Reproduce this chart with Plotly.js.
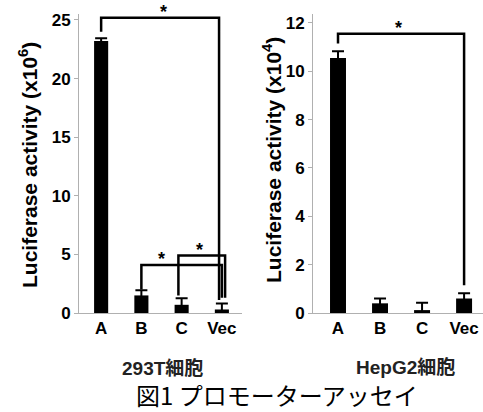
<!DOCTYPE html>
<html><head><meta charset="utf-8">
<script src="https://cdn.plot.ly/plotly-3.0.1.min.js"></script>
<style>html,body{margin:0;padding:0;background:#fff}#c{width:483px;height:412px}</style>
</head><body><div id="c"></div>
<script>
const categories = ['A','B','C','Vec'];
const values293T = [23.2, 1.5, 0.7, 0.3];
const errors293T = [0.25, 0.45, 0.55, 0.5];
const valuesHepG2 = [10.55, 0.4, 0.12, 0.6];
const errorsHepG2 = [0.28, 0.2, 0.3, 0.22];
// significance brackets: [x left, x right, y top, y left end, y right end]
const brackets293T = [[0, 2.93, 25.2, 24.0, 1.1], [1.0, 3.0, 4.1, 2.0, 1.3], [1.92, 3.08, 4.9, 1.5, 1.3]];
const bracketsHepG2 = [[0, 3.0, 11.55, 11.15, 1.15]];
const starPos293T = [[1.55, 25.2], [1.5, 4.1], [2.45, 4.9]];
const starPosHepG2 = [[1.45, 11.55]];

const FONT = 'Liberation Sans, Arial, sans-serif';
const traces = [];
traces.push({type:'bar', x:[0,1,2,3], y:values293T, xaxis:'x', yaxis:'y', width:0.35,
  marker:{color:'#000'}, error_y:{type:'data', array:errors293T, color:'#000', thickness:2, width:6}});
traces.push({type:'bar', x:[0,1,2,3], y:valuesHepG2, xaxis:'x2', yaxis:'y2', width:0.38,
  marker:{color:'#000'}, error_y:{type:'data', array:errorsHepG2, color:'#000', thickness:2, width:6}});
function addBrackets(list, xa, ya){
  list.forEach(b=>{
    traces.push({type:'scatter', mode:'lines', x:[b[0],b[0],b[1],b[1]], y:[b[3],b[2],b[2],b[4]],
      xaxis:xa, yaxis:ya, line:{color:'#000', width:2.5}, hoverinfo:'skip', cliponaxis:false});
  });
}
addBrackets(brackets293T,'x','y');
addBrackets(bracketsHepG2,'x2','y2');

const ann = [];
const C = {xanchor:'center', yanchor:'middle', showarrow:false, xref:'paper', yref:'paper'};
starPos293T.forEach(p=>ann.push({x:p[0], y:p[1], xref:'x', yref:'y', xanchor:'center', text:'<b>*</b>', showarrow:false, yanchor:'bottom', yshift:-6, font:{size:18, family:FONT, color:'#000'}}));
starPosHepG2.forEach(p=>ann.push({x:p[0], y:p[1], xref:'x2', yref:'y2', xanchor:'center', text:'<b>*</b>', showarrow:false, yanchor:'bottom', yshift:-6, font:{size:18, family:FONT, color:'#000'}}));
ann.push(Object.assign({}, C, {x:28/483, y:(412-165)/412, textangle:-90, text:'<b>Luciferase activity (x10<sup>6</sup>)</b>', font:{size:21, family:FONT, color:'#000'}}));
ann.push(Object.assign({}, C, {x:272/483, y:(412-160)/412, textangle:-90, text:'<b>Luciferase activity (x10<sup>4</sup>)</b>', font:{size:21, family:FONT, color:'#000'}}));
ann.push(Object.assign({}, C, {x:162/483, y:(412-368)/412, text:'<b>293T細胞</b>', font:{size:19, family:'Liberation Sans, Noto Sans CJK JP', color:'#222'}}));
ann.push(Object.assign({}, C, {x:405/483, y:(412-367)/412, text:'<b>HepG2細胞</b>', font:{size:19, family:'Liberation Sans, Noto Sans CJK JP', color:'#222'}}));
ann.push(Object.assign({}, C, {x:277/483, y:(412-394)/412, text:'図1 プロモーターアッセイ', font:{size:24, family:'Noto Sans CJK JP', color:'#000'}}));

const axCommon = {showgrid:false, zeroline:false, showline:true, linecolor:'#b0b0b0', linewidth:1,
  ticks:'outside', tickcolor:'#b0b0b0', ticklen:4, ticklabeloverflow:'allow',
  tickfont:{size:17, family:FONT, color:'#000', weight:'bold'}};
const layout = {
  width:483, height:412, margin:{l:0,r:0,t:0,b:0}, paper_bgcolor:'#fff', plot_bgcolor:'#fff', showlegend:false,
  xaxis:Object.assign({}, axCommon, {domain:[79/483, 242/483], range:[-0.55,3.5], tickmode:'array', tickvals:[0,1,2,3], ticktext:categories, ticks:'', anchor:'y'}),
  yaxis:Object.assign({}, axCommon, {domain:[99/412, 398/412], range:[0,25.51], tickvals:[0,5,10,15,20,25], anchor:'x'}),
  xaxis2:Object.assign({}, axCommon, {domain:[313/483, 1], range:[-0.595,3.45], tickmode:'array', tickvals:[0,1,2,3], ticktext:categories, ticks:'', anchor:'y2'}),
  yaxis2:Object.assign({}, axCommon, {domain:[99/412, 398/412], range:[0,12.37], tickvals:[0,2,4,6,8,10,12], anchor:'x2'}),
  annotations:ann,
  shapes:[
    ...[0.5,1.5,2.5,3.5].map(v=>({type:'line', xref:'x', yref:'y', x0:v, x1:v, y0:0, y1:-0.35, line:{color:'#b0b0b0', width:1}})),
    ...[0.5,1.5,2.5].map(v=>({type:'line', xref:'x2', yref:'y2', x0:v, x1:v, y0:0, y1:-0.17, line:{color:'#b0b0b0', width:1}}))
  ]
};
Plotly.newPlot('c', traces, layout, {displayModeBar:false, staticPlot:true});
</script></body></html>
